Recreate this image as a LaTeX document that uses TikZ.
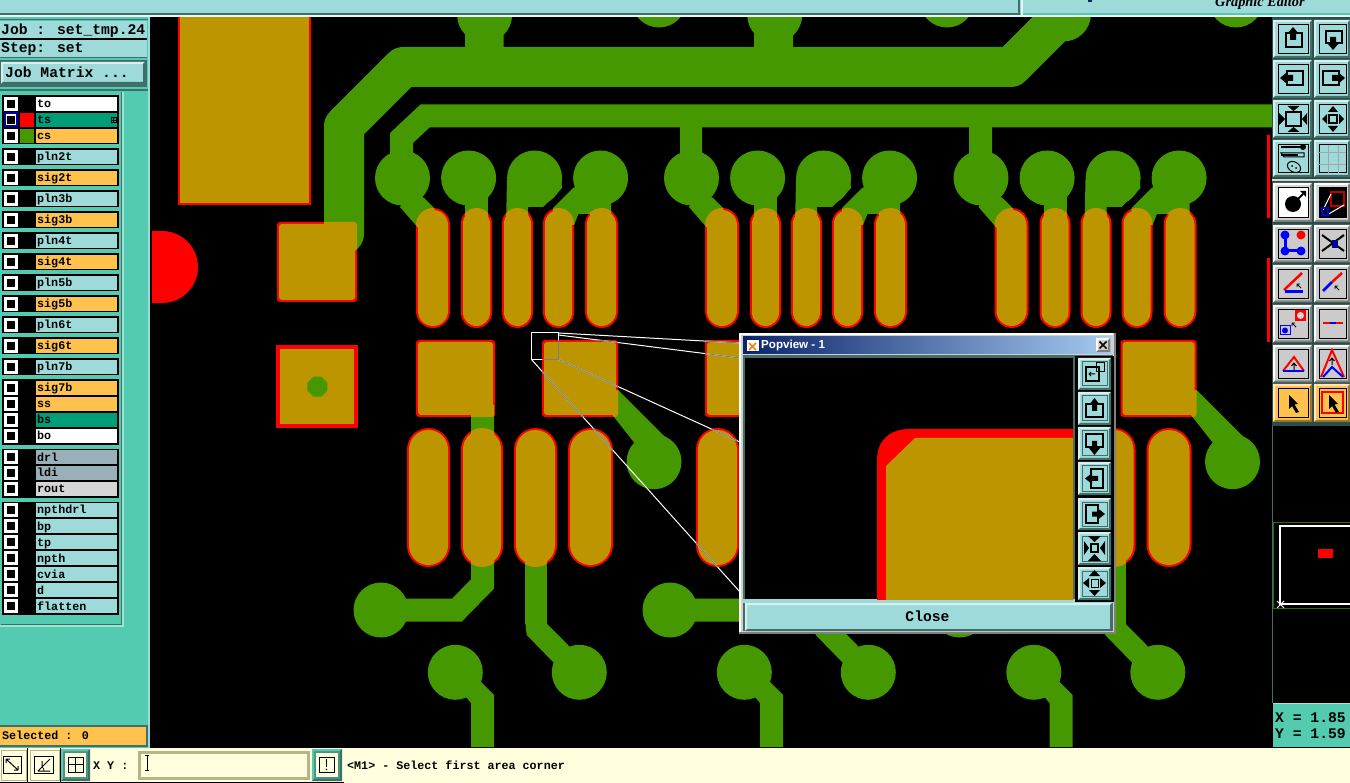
\documentclass[tikz,border=0pt]{standalone}
\usepackage{fontspec}
\newfontfamily\mono{Liberation Mono}
\newfontfamily\tsans{Liberation Sans}
\newfontfamily\tserif{Liberation Serif}
\definecolor{teal1}{HTML}{52CBB0}
\definecolor{lteal}{HTML}{9FDADA}
\definecolor{dteal}{HTML}{3F6F68}
\definecolor{orng}{HTML}{FFC34D}
\definecolor{ggreen}{HTML}{009E78}
\definecolor{gblue}{HTML}{9AB0B8}
\definecolor{lgrey}{HTML}{D6D6D6}
\definecolor{tgrey}{HTML}{CBCBCB}
\definecolor{cu}{HTML}{459800}
\definecolor{gold}{HTML}{BD9500}
\definecolor{cream}{HTML}{FFFFDD}
\definecolor{olive}{HTML}{B5B58A}
\definecolor{frameg}{HTML}{D4D0C8}
\definecolor{navy}{HTML}{0A246A}
\definecolor{skyb}{HTML}{A6CAF0}
\definecolor{zoomg}{HTML}{72828C}
\newcommand\pads[1]{%
 foreach \o in {0,289,578.5}{
  foreach \a/\b in {416/450,461/492,502/533,543/574,585/618}{
   [rounded corners={(\b-\a)/2-#1}] ({\o+\a+#1},{208+#1}) rectangle ({\o+\b-#1},{328-#1})
  }
  foreach \a/\b in {407/450,461/503,514/557,568/613}{
   [rounded corners={(\b-\a)/2-#1}] ({\o+\a+#1},{428+#1}) rectangle ({\o+\b-#1},{567-#1})
  }
  foreach \a/\b in {416/495,542/618}{
   [rounded corners=3] ({\o+\a+#1},{340+#1}) rectangle ({\o+\b-#1},{417-#1})
  }
 }
 [rounded corners=3] ({277+#1},{222+#1}) rectangle ({357-#1},{302-#1})
}
\newcommand\copper[1]{%
 \begin{scope}[every path/.style={}]
 \draw[#1,line width=40,line join=round,line cap=round] (344,234)--(344,126)--(403,67)--(1011,67)--(1063,15);
 \draw[#1,line width=23] (401.5,160)--(401.5,138)--(425,116)--(1272,116);
 \fill[#1] (680,120) rectangle (702,160) (969,120) rectangle (992,160);
 \foreach \xx/\yy in {484.6/15,774.7/15,659/0,947/0,1236/0,1063.5/14}{\fill[#1] (\xx,\yy) circle (27.5);}
 \fill[#1] (465,30) rectangle (503.6,50) (754,30) rectangle (793,50);
 \foreach \o in {0,289,578.5}{
  \begin{scope}[xshift=\o pt]
  \foreach \xx in {402.5,468.6,534.6,600.6}{\fill[#1] (\xx,178) circle (27.5);}
  \fill[#1] (400,207)--(420,230)--(440,230)--(434,208)--(424,198)--(410,190)--cycle;
  \fill[#1] (465,190) rectangle (488,225);
  \fill[#1] (507,180)--(506,225)--(528,225)--(528,207)--(543,207)--(562,188)--(560,170)--cycle;
  \fill[#1] (573,188)--(553,208)--(553,225)--(574,225)--(578.5,214)--(590,214)--(590,225)--(611,225)--(611,190)--(600,178)--cycle;
  \draw[#1,line width=23] (482.5,405)--(482.5,584)--(457,610)--(381,610);
  \fill[#1] (381,610) circle (27.5);
  \fill[#1] (525,550) rectangle (547,624);
  \fill[#1] (547,624)--(568,645)--(580,660)--(555,664)--(526.7,635)--(525,620)--cycle;
  \fill[#1] (579.3,672.3) circle (27.5);
  \fill[#1] (455.3,672.3) circle (27.5);
  \fill[#1] (471,747)--(494,747)--(494,695)--(481,682)--(460,690)--(471,703)--cycle;
  \fill[#1] (600,395)--(618,390)--(665,437)--(640,450)--(614,417)--cycle;
  \fill[#1] (654,461.7) circle (27.5);
  \end{scope}
 }
 \end{scope}
}
\newcommand\zoomlines[1]{%
 \draw[#1,line width=1] (531.5,333) rectangle (558.5,359.5);
 \draw[#1,line width=1] (558.5,333)--(740,343) (558.5,335)--(740,358) (558.5,359.5)--(740,442) (531.5,359.5)--(740,592);
}
\newcommand\bevel[7]{%
 \fill[#5] (#1,#2) rectangle (#3,#4);
 \fill[#6] (#1,#2)--(#3,#2)--({#3-2},{#2+2})--({#1+2},{#2+2})--({#1+2},{#4-2})--(#1,#4)--cycle;
 \fill[#7] (#3,#4)--(#1,#4)--({#1+2},{#4-2})--({#3-2},{#4-2})--({#3-2},{#2+2})--(#3,#2)--cycle;
}
\newcommand\tb[7]{\bevel{#1}{#2}{#3}{#4}{#5}{#6}{#7}\draw[black,line width=1] ({#1+5},{#2+5}) rectangle ({#3-4},{#4-4});}
\newcommand\cursor[3]{\fill[#3,shift={(#1,#2)}] (0,0)--(9,9)--(5.5,9.5)--(10,17)--(7,18)--(3,11)--(0,14)--cycle;}
\newcommand\tinycur[2]{\draw[black,line width=.8,shift={(#1,#2)}] (0,0)--(4,4) (0,0)--(3,0) (0,0)--(0,3);}
\tikzset{
 txt/.style={inner sep=0pt,anchor=base west,text=black,font=\mono\bfseries\fontsize{11.7}{12}\selectfont},
 bigtxt/.style={txt,font=\mono\bfseries\fontsize{14.7}{15}\selectfont},
 ic/.style={draw=black,line width=2,fill=none},
 icthin/.style={draw=black,line width=1,fill=none}
}
\begin{document}
\begin{tikzpicture}[x=1pt,y=-1pt]
\useasboundingbox (0,0) rectangle (1350,783);
% base
\fill[teal1] (0,0) rectangle (1350,783);
\fill[black] (150,17) rectangle (1272,748);
% PCB
\begin{scope}
\clip (150,17) rectangle (1272,748);
\fill[red] (152,231) -- (162,231) arc (-90:90:36) -- (152,303) -- cycle;
\fill[red] (178,10) rectangle (311,205);
\fill[gold] (180,10) rectangle (309,203);
\fill[red] (276,345) rectangle (358,428);
\fill[gold] (280,349) rectangle (354,424);
\fill[cu,shift={(317.3,386.7)}] (10,4)--(4,10)--(-4,10)--(-10,4)--(-10,-4)--(-4,-10)--(4,-10)--(10,-4)--cycle;
\fill[red] \pads{0};
\copper{cu}
\fill[gold] \pads{2};
\zoomlines{white}
\begin{scope}
\clip \pads{0};
\copper{gold}
\zoomlines{zoomg}
\end{scope}
\fill[red] (1267,135) rectangle (1270,218) (1267,258) rectangle (1270,342);
\end{scope}
% top bar
\fill[lteal] (0,0) rectangle (1350,13);
\fill[dteal] (0,13) rectangle (1020,15);
\fill[white!80!lteal] (0,15) rectangle (1350,17);
\fill[dteal] (1018,0) rectangle (1020,15);
\fill[white!70!lteal] (1021,0) rectangle (1023,17);
\fill[navy] (1088,0) rectangle (1092,2);
\node[inner sep=0pt,anchor=base west,font=\tserif\bfseries\itshape\fontsize{14.3}{14}\selectfont] (ge) at (1215,7) {Graphic Editor};
\fill[white!80!lteal] (0,15) rectangle (1020,17);
% left panel
\fill[black] (148,17) rectangle (150,19);
\fill[lteal] (148,17) rectangle (150,748);
\fill[dteal] (0,19) rectangle (148,20);
\begin{scope}
\clip (0,20) rectangle (147,90);
\fill[lteal] (0,21) rectangle (147,38);
\fill[black] (0,38) rectangle (147,40);
\fill[lteal] (0,40) rectangle (147,57);
\draw[dteal,line width=1] (0,57.5) -- (147,57.5);
\node[bigtxt] (job) at (1,35) {Job : set\_tmp.24};
\node[bigtxt] (stepname) at (1,53) {Step: set};
\fill[dteal] (0,60) rectangle (147,87);
\bevel{1}{62}{145}{84}{lteal}{white!60!lteal}{dteal}
\node[bigtxt] (jm) at (5,78) {Job Matrix ...};
\end{scope}
\fill[dteal] (0,89) rectangle (148,91);
\fill[teal1] (0,91) rectangle (148,725);
\fill[white!45!teal1] (122,92) rectangle (124,626);
\fill[white!45!teal1] (0,625) rectangle (124,626.5);
\draw[dteal,line width=1] (0.5,624.5) -- (121.5,624.5) -- (121.5,92);
% layer frames
\fill[black] (2,95) rectangle (119,144);
\foreach \yy in {157,178,199,220,241,262,283,304,325,346,367}{\fill[black] (2,{\yy-8.5}) rectangle (119,{\yy+8.5});}
\fill[black] (2,379) rectangle (119,445);
\fill[black] (2,449) rectangle (119,497.5);
\fill[black] (2,501.5) rectangle (119,614.5);
\foreach \yy/\tt/\cc in {104/to/white,120/ts/ggreen,136/cs/orng,157/pln2t/lteal,178/sig2t/orng,199/pln3b/lteal,220/sig3b/orng,241/pln4t/lteal,262/sig4t/orng,283/pln5b/lteal,304/sig5b/orng,325/pln6t/lteal,346/sig6t/orng,367/pln7b/lteal,388/sig7b/orng,404/ss/orng,420/bs/ggreen,436/bo/white,457/drl/gblue,473/ldi/gblue,489/rout/lgrey,510/npthdrl/lteal,526/bp/lteal,542/tp/lteal,558/npth/lteal,574/cvia/lteal,590/d/lteal,606/flatten/lteal}{
 \fill[\cc] (36,{\yy-7}) rectangle (117,{\yy+7});
 \fill[white] (4,{\yy-7}) rectangle (18,{\yy+7});
 \fill[black] (7,{\yy-4}) rectangle (15,{\yy+4});
 \node[txt] (lay\tt) at (37,{\yy+4}) {\tt};
}
\draw[blue!70!black,line width=2] (5,113.5) rectangle (17,126.5);
\fill[black] (7,116) rectangle (15,124);
\fill[red] (20,113) rectangle (34,127);
\fill[cu] (20,129) rectangle (34,143);
\draw[black,line width=1] (111,117.5) rectangle (116,122.5);
\draw[black,line width=.7] (113.5,117.5)--(113.5,122.5) (111,120)--(116,120);
% selected
\fill[dteal] (0,725) rectangle (148,747);
\fill[orng] (0,727) rectangle (146,745);
\node[txt] (sel) at (2,739) {Selected : 0};
% right toolbar
\fill[dteal!70!black] (1272,17) rectangle (1350,426);
\fill[lgrey] (1272,179) rectangle (1350,181);
\tb{1273}{20}{1312}{58}{lteal}{white!60!lteal}{dteal}
\tb{1314}{20}{1350}{58}{lteal}{white!60!lteal}{dteal}
\tb{1273}{60}{1312}{98}{lteal}{white!60!lteal}{dteal}
\tb{1314}{60}{1350}{98}{lteal}{white!60!lteal}{dteal}
\tb{1273}{100}{1312}{138}{lteal}{white!60!lteal}{dteal}
\tb{1314}{100}{1350}{138}{lteal}{white!60!lteal}{dteal}
\tb{1273}{140}{1312}{177}{lteal}{white!60!lteal}{dteal}
\tb{1314}{140}{1350}{177}{lteal}{white!60!lteal}{dteal}
\tb{1273}{183}{1312}{222}{lgrey}{white}{gray}
\fill[white] (1278,188) rectangle (1308,218);
\draw[black,line width=1] (1278,188) rectangle (1308,218);
\tb{1314}{183}{1350}{222}{lgrey}{white}{gray}
\fill[black] (1319,188) rectangle (1346,218);
\foreach \ya in {225,265,305,345}{
 \tb{1273}{\ya}{1312}{\ya+37.5}{tgrey}{white}{gray}
 \tb{1314}{\ya}{1350}{\ya+37.5}{tgrey}{white}{gray}
}
\tb{1273}{384}{1312}{422}{orng}{white!60!orng}{orng!60!black}
\tb{1314}{384}{1350}{422}{orng}{white!60!orng}{orng!60!black}
% row1 icons
\draw[ic] (1286,33) rectangle (1302,47);
\fill[black] (1293,27)--(1299,34)--(1296,34)--(1296,40)--(1290,40)--(1290,34)--(1287,34)--cycle;
\draw[ic] (1326,31) rectangle (1342,43);
\fill[black] (1333,50)--(1339,43)--(1336,43)--(1336,37)--(1330,37)--(1330,43)--(1327,43)--cycle;
% row2
\draw[ic] (1287,71) rectangle (1303,85);
\fill[black] (1280,78)--(1287,72)--(1287,75)--(1293,75)--(1293,81)--(1287,81)--(1287,84)--cycle;
\draw[ic] (1323,71) rectangle (1339,85);
\fill[black] (1345,78)--(1338,72)--(1338,75)--(1332,75)--(1332,81)--(1338,81)--(1338,84)--cycle;
% row3
\draw[ic] (1286,112) rectangle (1301,126);
\fill[black] (1293.5,111)--(1287.5,106)--(1299.5,106)--cycle (1293.5,127)--(1287.5,132)--(1299.5,132)--cycle (1285,119)--(1279,113)--(1279,125)--cycle (1302,119)--(1307,113)--(1307,125)--cycle;
\draw[ic] (1329,115) rectangle (1337,123);
\fill[black] (1333,106)--(1328,112)--(1338,112)--cycle (1333,132)--(1328,126)--(1338,126)--cycle (1322,119)--(1327,114)--(1327,124)--cycle (1344,119)--(1339,114)--(1339,124)--cycle;
% row4
\draw[black,line width=2.5] (1281,147)--(1301,147) (1281,155)--(1298,155);
\draw[black,line width=1] (1281,153)--(1284,157)--(1304,157)--(1304,153)--cycle;
\fill[black] (1303,147) circle (3);
\draw[black,line width=1,fill=none,rotate around={-30:(1294,167)}] (1294,167) ellipse (7 and 5);
\fill[black] (1292,166) circle (1) (1296,168) circle (1);
\draw[gray!70,line width=.8] (1318,152)--(1346,152) (1318,164)--(1346,164) (1328,145)--(1328,173) (1338,145)--(1338,173);
% row5
\fill[black] (1293,204) circle (8);
\draw[black,line width=2] (1297,200)--(1303,194);
\fill[black] (1306,191)--(1306,197)--(1300,191)--cycle;
\draw[red!75!black,line width=2.5] (1331,192) rectangle (1344,206);
\draw[white,line width=1] (1323,210)--(1331,194) (1327,215)--(1344,205);
\draw[blue!90!black,line width=1.5] (1322,208) rectangle (1328,215);
% row6
\draw[blue,line width=3] (1285,235)--(1285,251)--(1301,251);
\fill[blue] (1285,235) circle (4.5) (1285,251) circle (4.5) (1301,251) circle (4.5);
\fill[red] (1301,235) circle (4.5);
\draw[black,line width=2] (1322,235)--(1344,251) (1344,235)--(1322,251);
\fill[blue!60!black] (1332,240) rectangle (1338,248);
% row7
\draw[red,line width=2.5] (1284,290)--(1302,273);
\draw[blue,line width=3] (1285,292)--(1303,292);
\tinycur{1297}{284}
\draw[blue,line width=2.5] (1323,291)--(1332,282);
\draw[red,line width=2.5] (1332,282)--(1342,273);
\tinycur{1335}{286}
% row8
\draw[blue,line width=1] (1280,326) rectangle (1290,335);
\fill[blue] (1285,330.5) circle (3);
\fill[red] (1295,310) rectangle (1306,321);
\fill[lgrey] (1300.5,315.5) circle (3.5);
\tinycur{1292}{323}
\draw[red,line width=2.5] (1323,323)--(1343,323);
\draw[blue,line width=2.5] (1330,323)--(1336,323);
% row9
\draw[red,line width=2] (1283,371)--(1294,357)--(1304,371);
\draw[blue,line width=2.5] (1283,371)--(1304,371);
\draw[black,line width=1] (1294,370)--(1294,364) (1291.5,366)--(1294,363)--(1296.5,366);
\draw[red,line width=2] (1321,377)--(1332,350)--(1344,377);
\draw[blue,line width=2] (1323,377)--(1332,367)--(1343,377);
\draw[black,line width=1] (1332,365)--(1332,358) (1329.5,361)--(1332,358)--(1334.5,361);
% row10
\cursor{1289}{395}{black}
\draw[red,line width=2.5] (1322,392) rectangle (1343,413);
\cursor{1329}{395}{black}
% minimap
\fill[black] (1272,426) rectangle (1350,748);
\draw[dteal,line width=1.5] (1272.5,426) -- (1272.5,703);
\draw[cu!70!black,line width=1] (1350,522.5) -- (1273,522.5) -- (1273,608.5) -- (1350,608.5);
\draw[white,line width=2] (1351,526) -- (1280,526) -- (1280,604) -- (1351,604);
\fill[red] (1318,549) rectangle (1333,558);
\draw[white,line width=.8] (1277,601)--(1284,608) (1284,601)--(1277,608);
\fill[teal1] (1273,703) rectangle (1350,747);
\fill[white!50!teal1] (1273,703) rectangle (1350,704);
\node[bigtxt] (xr) at (1275,722) {X = 1.85};
\node[bigtxt] (yr) at (1275,738) {Y = 1.59};
% bottom bar
\fill[cream] (0,748) rectangle (1350,783);
\fill[black] (0,781.5) rectangle (344,783);
\draw[olive,line width=1] (1,750) rectangle (26,780) (30,750) rectangle (59,780);
\draw[black,line width=1] (3,756) rectangle (21,773) (34,756) rectangle (53,773);
\draw[black,line width=1] (27.5,748)--(27.5,782) (60,748)--(60,782);
\draw[black,line width=1] (6,759)--(18,770) (6,759)--(6,763) (6,759)--(10,759) (18,770)--(18,766) (18,770)--(14,770);
\draw[black,line width=1] (38,771)--(50,759) (38,771)--(50,771) (42,761)--(42,766);
\draw[black,line width=.7] (44,771) arc (0:-45:6);
\bevel{61}{749}{90}{781}{dteal!60!teal1}{teal1}{dteal}
\fill[cream] (65,753) rectangle (86,777);
\draw[black,line width=1] (68,757) rectangle (83,772) (75,757)--(75,772) (68,764)--(83,764);
\node[txt] (xy) at (93,769) {X Y :};
\fill[olive] (138,751) rectangle (310,780);
\fill[cream] (141,754) rectangle (307,777);
\draw[black,line width=1] (147,755)--(147,770) (145,755)--(149,755) (145,770)--(149,770);
\bevel{312}{749}{342}{781}{dteal!60!teal1}{teal1}{dteal}
\fill[cream] (316,753) rectangle (338,777);
\draw[black,line width=1] (319,757) rectangle (334,772);
\draw[black,line width=1.5] (326.5,759)--(326.5,767);
\fill[black] (326.5,769.5) circle (0.9);
\node[txt] (msg) at (347,769) {<M1> - Select first area corner};
% popup
\fill[frameg] (739,333) rectangle (1115,633);
\fill[white] (739,333) rectangle (1113,335);
\fill[white] (739,333) rectangle (741,633);
\fill[gray] (739,632) rectangle (1115,634);
\fill[gray] (1114,333) rectangle (1115.5,634);
\shade[left color=navy,right color=skyb] (743,337) rectangle (1111,354);
\fill[white] (746,340) rectangle (759,352);
\draw[navy,line width=1] (746,340) rectangle (759,352);
\draw[orange,line width=1.5] (749,343)--(756,350) (756,343)--(749,350);
\node[inner sep=0pt,anchor=base west,text=white,font=\tsans\bfseries\fontsize{11.6}{12}\selectfont] (ptitle) at (761,349) {Popview - 1};
\bevel{1096}{338}{1110}{352}{frameg}{white}{gray}
\draw[black,line width=1.5] (1099.5,341.5)--(1106.5,348.5) (1106.5,341.5)--(1099.5,348.5);
\fill[dteal] (743,355) rectangle (1113,631);
\fill[lteal] (743,599) rectangle (1113,603);
% view
\fill[black] (745,358) rectangle (1073,599);
\begin{scope}
\clip (745,358) rectangle (1073,599);
\fill[red] (877,610) -- (877,460) .. controls (877,440) and (890,429) .. (910,429) -- (1080,429) -- (1080,610) -- cycle;
\fill[gold] (886,610) -- (886,466) -- (915,438) -- (1080,438) -- (1080,610) -- cycle;
\end{scope}
\fill[black] (1075,356) rectangle (1114,602);
\foreach \ya/\yb in {358/390,392/425,427/460,462/495,498/530,532/565,567/600}{
 \bevel{1078}{\ya}{1111}{\yb}{lteal}{white!60!lteal}{dteal}
 \draw[dteal,line width=1] (1082,{\ya+4}) rectangle (1107,{\yb-4});
}
% popup icons
\draw[ic,line width=1.5] (1086,367) rectangle (1099,381);
\draw[black,line width=1] (1096,363) rectangle (1104,372);
\draw[black,line width=1] (1095,374)--(1089,374) (1091,372)--(1089,374)--(1091,376);
\draw[ic] (1086,404) rectangle (1103,417);
\fill[black] (1094.5,398)--(1100,405)--(1097,405)--(1097,411)--(1092,411)--(1092,405)--(1089,405)--cycle;
\draw[ic] (1086,434) rectangle (1103,447);
\fill[black] (1094.5,455)--(1100,448)--(1097,448)--(1097,441)--(1092,441)--(1092,448)--(1089,448)--cycle;
\draw[ic] (1091,469) rectangle (1103,488);
\fill[black] (1085,478.5)--(1092,473)--(1092,476)--(1098,476)--(1098,481)--(1092,481)--(1092,484)--cycle;
\draw[ic] (1086,505) rectangle (1098,523);
\fill[black] (1105,514)--(1098,508.5)--(1098,511.5)--(1092,511.5)--(1092,516.5)--(1098,516.5)--(1098,519.5)--cycle;
\draw[black,line width=1.5] (1091,544) rectangle (1098,552);
\fill[black] (1094.5,542)--(1088,536)--(1101,536)--cycle (1094.5,554)--(1088,561)--(1101,561)--cycle (1089,548)--(1084,541)--(1084,555)--cycle (1100,548)--(1105,541)--(1105,555)--cycle;
\draw[black,line width=1] (1091,579) rectangle (1098,587);
\fill[black] (1094.5,570)--(1089,576)--(1100,576)--cycle (1094.5,596)--(1089,590)--(1100,590)--cycle (1083,583)--(1089,578)--(1089,588)--cycle (1106,583)--(1100,578)--(1100,588)--cycle;
% close
\bevel{745}{603}{1112}{631}{lteal}{white!60!lteal}{dteal}
\node[bigtxt,anchor=base] (closebtn) at (927.5,621) {Close};
\end{tikzpicture}
\end{document}
